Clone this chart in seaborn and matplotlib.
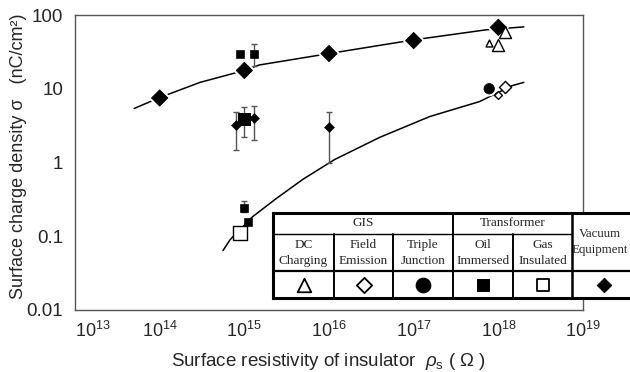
import numpy as np
import pandas as pd
import seaborn as sns
import matplotlib.pyplot as plt
from matplotlib import patheffects
from matplotlib.ticker import NullLocator
from matplotlib.patches import Rectangle

# upper curve (vacuum equipment trend)
upper_x = [5e13, 1e14, 3e14, 1e15, 1.5e15, 1e16, 1e17, 7.2e17, 2e18]
upper_y = [5.4, 7.6, 12.2, 17.7, 21, 30, 46, 63, 69]
# lower curve
lower_x = [5.6e14, 6.8e14, 1.26e15, 2.3e15, 4.9e15, 1.17e16, 4e16, 1.55e17, 6e17, 1.45e18, 2e18]
lower_y = [0.064, 0.090, 0.185, 0.315, 0.59, 1.1, 2.2, 4.2, 6.7, 11, 12.2]

# vacuum equipment (filled diamonds)
vac_big_x = [1e14, 1e15, 1e16, 1e17, 1e18]
vac_big_y = [7.5, 17.7, 30, 45, 68]
vac_small_x = [8e14, 1.3e15, 1e16]
vac_small_y = [3.2, 4.0, 3.0]
vac_small_lo = [1.5, 2.0, 1.0]
vac_small_hi = [4.9, 5.9, 4.9]

# transformer, oil immersed (filled squares)
oil_small_x = [9e14, 1.3e15, 1e15, 1.1e15]
oil_small_y = [30, 30, 0.245, 0.154]
oil_err_x = [1.3e15, 1e15]
oil_err_y = [30, 0.245]
oil_err_lo = [20.5, 0.21]
oil_err_hi = [40, 0.305]
oil_big_x = [1e15]
oil_big_y = [3.95]
oil_big_lo = [2.25]
oil_big_hi = [5.6]

# transformer, gas insulated (open square)
gas_x = [9e14]
gas_y = [0.112]

# GIS: DC charging (triangles), field emission (open diamonds), triple junction (circle)
dc_big_x = [1.2e18, 1e18]
dc_big_y = [58, 39]
dc_small_x = [7.8e17]
dc_small_y = [42]
fe_big_x = [1.2e18]
fe_big_y = [10.4]
fe_small_x = [1e18]
fe_small_y = [8.1]
tj_x = [7.8e17]
tj_y = [10]

x_ticks = [1e13, 1e14, 1e15, 1e16, 1e17, 1e18, 1e19]
x_ticklabels = ['$10^{13}$', '$10^{14}$', '$10^{15}$', '$10^{16}$', '$10^{17}$', '$10^{18}$', '$10^{19}$']
y_ticks = [0.01, 0.1, 1, 10, 100]
y_ticklabels = ['0.01', '0.1', '1', '10', '100']
col_labels = ["DC\nCharging", "Field\nEmission", "Triple\nJunction", "Oil\nImmersed", "Gas\nInsulated"]

sns.set_style("white")
plt.rcParams['font.family'] = ['Liberation Sans', 'DejaVu Sans']
plt.rcParams['mathtext.fontset'] = 'custom'
plt.rcParams['mathtext.rm'] = 'Liberation Sans'
plt.rcParams['mathtext.it'] = 'Liberation Sans:italic'

fig = plt.figure(figsize=(6.3, 3.72), dpi=100)
ax = fig.add_axes([75 / 630, 1 - 310 / 372, 508 / 630, 295 / 372])
ax.set_xscale('log')
ax.set_yscale('log')

halo = [patheffects.withStroke(linewidth=3.5, foreground='white')]

sns.lineplot(x=upper_x, y=upper_y, color='black', lw=1.1, sort=False, estimator=None, ax=ax)
sns.lineplot(x=lower_x, y=lower_y, color='black', lw=1.1, sort=False, estimator=None, ax=ax)

# error bars
ax.errorbar(vac_small_x, vac_small_y,
            yerr=[np.subtract(vac_small_y, vac_small_lo), np.subtract(vac_small_hi, vac_small_y)],
            fmt='none', ecolor='#555555', elinewidth=1, capsize=2.2, capthick=1)
ax.errorbar(oil_err_x, oil_err_y,
            yerr=[np.subtract(oil_err_y, oil_err_lo), np.subtract(oil_err_hi, oil_err_y)],
            fmt='none', ecolor='#555555', elinewidth=1, capsize=2.2, capthick=1)
ax.errorbar(oil_big_x, oil_big_y,
            yerr=[np.subtract(oil_big_y, oil_big_lo), np.subtract(oil_big_hi, oil_big_y)],
            fmt='none', ecolor='#555555', elinewidth=1, capsize=2.2, capthick=1)

# markers
sns.scatterplot(x=vac_big_x, y=vac_big_y, marker='D', s=68, color='black', edgecolor='black', ax=ax, zorder=4)
ax.collections[-1].set_path_effects(halo)
sns.scatterplot(x=vac_small_x, y=vac_small_y, marker='D', s=26, color='black', edgecolor='black', ax=ax, zorder=4)
sns.scatterplot(x=oil_small_x, y=oil_small_y, marker='s', s=34, color='black', edgecolor='black', ax=ax, zorder=4)
sns.scatterplot(x=oil_big_x, y=oil_big_y, marker='s', s=80, color='black', edgecolor='black', ax=ax, zorder=4)
sns.scatterplot(x=gas_x, y=gas_y, marker='s', s=90, color='white', edgecolor='black', linewidth=1, ax=ax, zorder=4)
sns.scatterplot(x=dc_big_x, y=dc_big_y, marker='^', s=75, color='white', edgecolor='black', linewidth=1, ax=ax, zorder=3)
sns.scatterplot(x=dc_small_x, y=dc_small_y, marker='^', s=25, color='white', edgecolor='black', linewidth=1, ax=ax, zorder=3)
sns.scatterplot(x=fe_big_x, y=fe_big_y, marker='D', s=38, color='white', edgecolor='black', linewidth=1, ax=ax, zorder=4)
sns.scatterplot(x=fe_small_x, y=fe_small_y, marker='D', s=16, color='white', edgecolor='black', linewidth=1, ax=ax, zorder=4)
sns.scatterplot(x=tj_x, y=tj_y, marker='o', s=55, color='black', edgecolor='black', ax=ax, zorder=4)
ax.collections[-1].set_path_effects(halo)
ax.collections[-5].set_zorder(5)

ax.set_xlim(1e13, 1e19)
ax.set_ylim(0.01, 100)
ax.set_xticks(x_ticks)
ax.set_xticklabels(x_ticklabels)
ax.set_yticks(y_ticks)
ax.set_yticklabels(y_ticklabels)
ax.xaxis.set_minor_locator(NullLocator())
ax.yaxis.set_minor_locator(NullLocator())
ax.tick_params(direction='in', length=5, width=0.9, color='#444444')
ax.tick_params(axis='y', labelsize=13.5, pad=8.5)
ax.tick_params(axis='x', labelsize=13, pad=8)
for s in ax.spines.values():
    s.set_color('#555555')
    s.set_linewidth(1)
# first label sits to the right of its tick, as in the original
ax.get_xticklabels()[0].set_ha('left')

ax.set_xlabel("Surface resistivity of insulator  $\\rho_{\\rm s}$ ( Ω )", fontsize=13.5, labelpad=7)
ax.set_ylabel("Surface charge density σ   (nC/cm²)", fontsize=13)
ax.yaxis.set_label_coords(-0.094, 0.52)

# legend table drawn in pixel coordinates over the figure
tab = fig.add_axes([0, 0, 1, 1], zorder=10)
tab.set_xlim(0, 630)
tab.set_ylim(372, 0)
tab.axis('off')
tab.patch.set_visible(False)

x0, x1 = 273, 640
y0, y1, y2, y3 = 213, 234, 271, 298
cols = [273, 334, 393, 453, 513, 572, 640]
tab.add_patch(Rectangle((x0, y0), x1 - x0, y3 - y0, facecolor='white', edgecolor='black', lw=2.2))
tab.plot([cols[0], cols[5]], [y1, y1], color='black', lw=1.0)
tab.plot([x0, x1], [y2, y2], color='black', lw=1.6)
for c in cols[1:3]:
    tab.plot([c, c], [y1, y3], color='black', lw=1.4)
tab.plot([cols[3], cols[3]], [y0, y3], color='black', lw=1.4)
tab.plot([cols[4], cols[4]], [y1, y3], color='black', lw=1.4)
tab.plot([cols[5], cols[5]], [y0, y3], color='black', lw=1.8)

serif = ['Liberation Serif', 'DejaVu Serif']
tab.text((cols[0] + cols[3]) / 2, (y0 + y1) / 2, "GIS", ha='center', va='center', family=serif, fontsize=9.5)
tab.text((cols[3] + cols[5]) / 2, (y0 + y1) / 2, "Transformer", ha='center', va='center', family=serif, fontsize=9.5)
tab.text(600, (y0 + y2) / 2, "Vacuum\nEquipment", ha='center', va='center', family=serif, fontsize=9.3, linespacing=1.35)
for i, lab in enumerate(col_labels):
    tab.text((cols[i] + cols[i + 1]) / 2, (y1 + y2) / 2 + 0.5, lab, ha='center', va='center',
             family=serif, fontsize=9.5, linespacing=1.35)

ym = (y2 + y3) / 2
centers = [(cols[i] + cols[i + 1]) / 2 for i in range(5)] + [604]
sns.scatterplot(x=[centers[0]], y=[ym], marker='^', s=95, color='white', edgecolor='black', linewidth=1.3, ax=tab)
sns.scatterplot(x=[centers[1]], y=[ym], marker='D', s=60, color='white', edgecolor='black', linewidth=1.3, ax=tab)
sns.scatterplot(x=[centers[2]], y=[ym], marker='o', s=110, color='black', edgecolor='black', ax=tab)
sns.scatterplot(x=[centers[3]], y=[ym], marker='s', s=75, color='black', edgecolor='black', ax=tab)
sns.scatterplot(x=[centers[4]], y=[ym], marker='s', s=80, color='white', edgecolor='black', linewidth=1.3, ax=tab)
sns.scatterplot(x=[centers[5]], y=[ym], marker='D', s=55, color='black', edgecolor='black', ax=tab)
tab.set_xlim(0, 630)
tab.set_ylim(372, 0)

fig.savefig("out.png", dpi=100)
